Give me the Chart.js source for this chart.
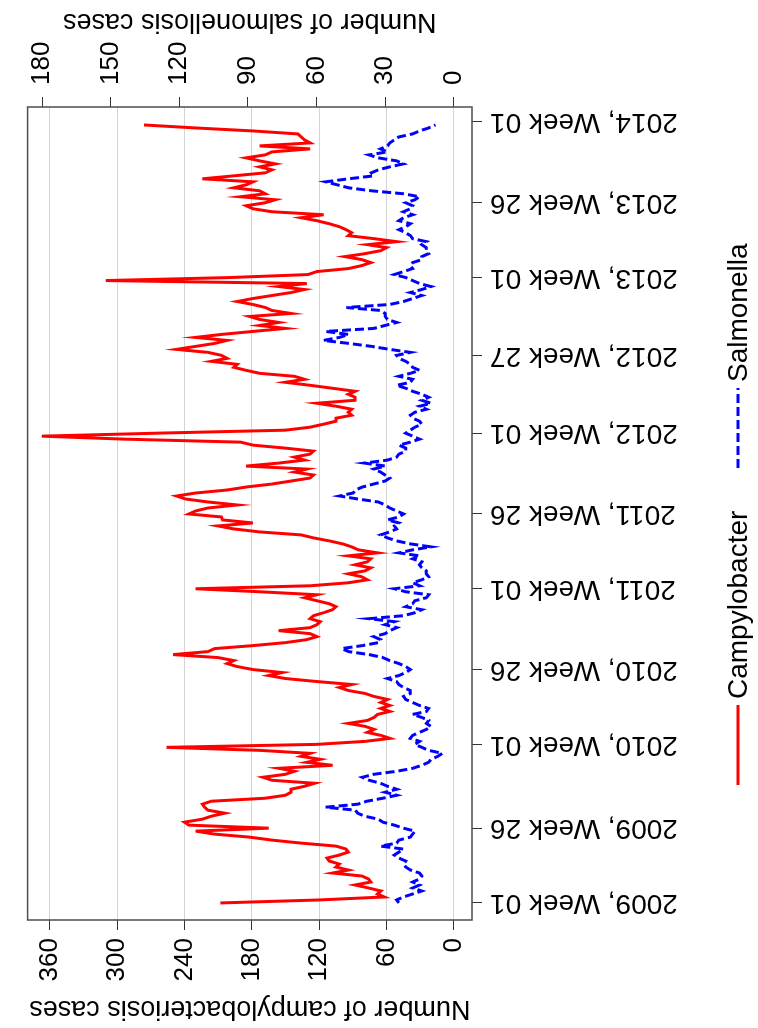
<!DOCTYPE html>
<html>
<head>
<meta charset="utf-8">
<script src="https://cdn.jsdelivr.net/npm/chart.js@4.4.0/dist/chart.umd.min.js"></script>
<style>
  html, body { margin: 0; padding: 0; background: #fff; width: 758px; height: 1028px; overflow: hidden; }
  #wrap { position: absolute; left: 0; top: 0; width: 1028px; height: 758px;
          transform-origin: 0 0; transform: translateY(1028px) rotate(-90deg); }
  canvas { display: block; }
</style>
</head>
<body>
<div id="wrap"><canvas id="c" width="1028" height="758"></canvas></div>
<script>
// ---- data (weekly counts, 2009 W01 ... 2013 W52) ----
const seriesNames = ["Campylobacter", "Salmonella"];
const campylobacter = [
 208,120,62,68,65,76,88,74,76,82,
 108,94,105,102,111,113,102,94,96,105,
 136,162,182,213,230,165,236,240,224,216,
 204,219,222,224,216,168,150,145,145,133,
 124,162,170,150,142,156,108,131,119,136,
 128,173,256,122,79,57,65,77,71,79,
 94,77,71,68,57,65,57,65,59,71,
 79,94,102,91,122,150,165,153,179,193,
 202,196,210,250,219,213,179,150,131,122,
 128,156,128,122,119,128,125,116,108,105,
 111,122,133,122,173,230,128,94,77,82,
 94,79,74,88,77,74,94,68,85,91,
 99,111,125,136,173,196,210,179,206,207,
 236,230,219,193,219,239,247,230,202,185,
 162,145,128,125,142,131,185,156,133,142,
 128,125,150,179,190,293,367,264,150,128,
 116,105,105,91,94,91,105,122,88,88,
 94,88,108,128,150,133,142,173,185,196,
 193,216,202,207,219,247,230,213,202,230,
 207,179,150,173,156,173,182,145,162,168,
 179,193,179,162,145,133,156,131,310,200,
 130,122,94,82,74,82,97,79,65,60,
 77,51,71,94,91,96,102,111,122,136,
 116,162,179,185,168,159,190,168,173,196,
 185,179,224,196,168,162,173,159,173,185,
 168,162,128,173,128,133,136,139,179,230,
 276
];
const salmonella = [
 24,25,22,18,14,18,15,18,15,14,
 15,19,21,22,21,24,26,24,22,32,
 25,24,19,18,17,22,26,31,33,39,
 42,43,56,42,38,31,25,30,25,29,
 32,37,40,35,25,18,14,11,10,7,
 5,11,14,17,15,19,18,15,12,10,
 12,11,14,18,12,11,15,18,21,22,
 19,19,22,24,25,29,24,21,19,21,
 24,28,31,37,46,49,40,33,32,35,
 30,28,25,30,26,37,22,17,14,21,
 18,17,12,11,21,26,15,18,14,11,
 12,12,14,15,14,18,15,24,18,10,
 19,25,29,32,28,25,26,24,29,24,
 22,25,28,30,33,42,50,44,43,40,
 35,30,28,30,32,35,30,39,29,25,
 24,21,21,24,19,15,18,21,19,17,
 14,15,18,19,17,12,15,10,14,11,
 14,18,21,25,19,18,24,19,15,18,
 19,21,24,25,19,28,36,46,57,50,
 46,56,35,30,25,29,30,30,32,47,
 28,22,18,14,19,14,10,15,18,21,
 26,22,18,19,18,14,14,11,12,12,
 14,12,18,19,21,24,21,19,24,22,
 18,22,19,18,21,17,15,22,36,46,
 51,56,46,35,36,33,28,22,25,33,
 37,29,32,29,28,26,24,18,15,11,
 8
];
const tickWeeks  = [0, 25, 53, 78, 105, 130, 157, 183, 209, 234, 261];
const tickLabels = ["2009, Week 01","2009, Week 26","2010, Week 01","2010, Week 26","2011, Week 01",
                    "2011, Week 26","2012, Week 01","2012, Week 27","2013, Week 01","2013, Week 26","2014, Week 01"];
const campyTicks = [0, 60, 120, 180, 240, 300, 360];
const salmoTicks = [0, 30, 60, 90, 120, 150, 180];
const leftTitle  = "Number of campylobacteriosis cases";
const rightTitle = "Number of salmonellosis cases";

// ---- chart ----
const FONT = '"Liberation Sans", Arial, sans-serif';
const toXY = arr => arr.map((v, i) => ({ x: i, y: v }));

const extras = {
  id: 'extras',
  afterDraw(chart) {
    const { ctx, chartArea: a } = chart;
    ctx.save();
    // plot box
    ctx.strokeStyle = '#4d4d4d';
    ctx.lineWidth = 1.5;
    ctx.setLineDash([]);
    ctx.strokeRect(a.left, a.top, a.right - a.left, a.bottom - a.top);
    // right axis title (reads bottom-to-top)
    ctx.fillStyle = '#000';
    ctx.font = '27px ' + FONT;
    ctx.textAlign = 'center';
    ctx.textBaseline = 'middle';
    ctx.save();
    ctx.translate(1007, (a.top + a.bottom) / 2);
    ctx.rotate(-Math.PI / 2);
    ctx.fillText(rightTitle, 0, 0);
    ctx.restore();
    // legend
    ctx.font = '28px ' + FONT;
    const ly = 738;
    const items = [{ i: 0, x0: 243, x1: 323, tx: 329 }, { i: 1, x0: 560, x1: 640, tx: 646 }];
    items.forEach(it => {
      const ds = chart.data.datasets[it.i];
      ctx.strokeStyle = ds.borderColor;
      ctx.lineWidth = ds.borderWidth;
      ctx.setLineDash(ds.borderDash || []);
      ctx.beginPath();
      ctx.moveTo(it.x0, ly);
      ctx.lineTo(it.x1, ly);
      ctx.stroke();
      ctx.setLineDash([]);
      ctx.fillStyle = '#000';
      ctx.textAlign = 'left';
      ctx.fillText(ds.label, it.tx, ly + 1);
    });
    ctx.restore();
  }
};

new Chart(document.getElementById('c'), {
  type: 'line',
  data: {
    datasets: [
      { label: seriesNames[0], data: toXY(campylobacter), yAxisID: 'y',
        borderColor: '#ff0000', borderWidth: 3, pointRadius: 0, tension: 0, fill: false },
      { label: seriesNames[1], data: toXY(salmonella), yAxisID: 'y2',
        borderColor: '#0000ff', borderWidth: 3, borderDash: [9, 4], pointRadius: 0, tension: 0, fill: false }
    ]
  },
  options: {
    responsive: false,
    animation: false,
    devicePixelRatio: 1,
    layout: { padding: { top: 8, left: 0, right: 0, bottom: 0 } },
    plugins: { legend: { display: false }, tooltip: { enabled: false } },
    scales: {
      x: {
        type: 'linear', min: -5.7, max: 266,
        afterBuildTicks: s => { s.ticks = tickWeeks.map(v => ({ value: v })); },
        afterFit: s => { s.height = 286; },
        ticks: {
          autoSkip: false, minRotation: 90, maxRotation: 90, padding: 8,
          color: '#000', font: { family: FONT, size: 28 },
          callback: v => tickLabels[tickWeeks.indexOf(v)]
        },
        grid: { drawOnChartArea: false, drawTicks: true, tickLength: 10, tickColor: '#333', tickWidth: 1 },
        border: { display: false }
      },
      y: {
        position: 'left', min: -16.2, max: 379.7,
        afterBuildTicks: s => { s.ticks = campyTicks.map(v => ({ value: v })); },
        afterFit: s => { s.width = 108; },
        ticks: { padding: 8, color: '#000', font: { family: FONT, size: 26 } },
        grid: { color: '#d4d4d4', lineWidth: 1, tickColor: '#333', tickLength: 10, tickWidth: 1 },
        border: { display: false },
        title: { display: true, text: leftTitle, color: '#000', font: { family: FONT, size: 27 }, padding: { top: 3, bottom: 0 } }
      },
      y2: {
        position: 'right', min: -7.95, max: 186.3,
        afterBuildTicks: s => { s.ticks = salmoTicks.map(v => ({ value: v })); },
        afterFit: s => { s.width = 107; },
        ticks: { padding: 12, color: '#000', font: { family: FONT, size: 26 } },
        grid: { drawOnChartArea: false, tickColor: '#333', tickLength: 10, tickWidth: 1 },
        border: { display: false }
      }
    }
  },
  plugins: [extras]
});
</script>
</body>
</html>
